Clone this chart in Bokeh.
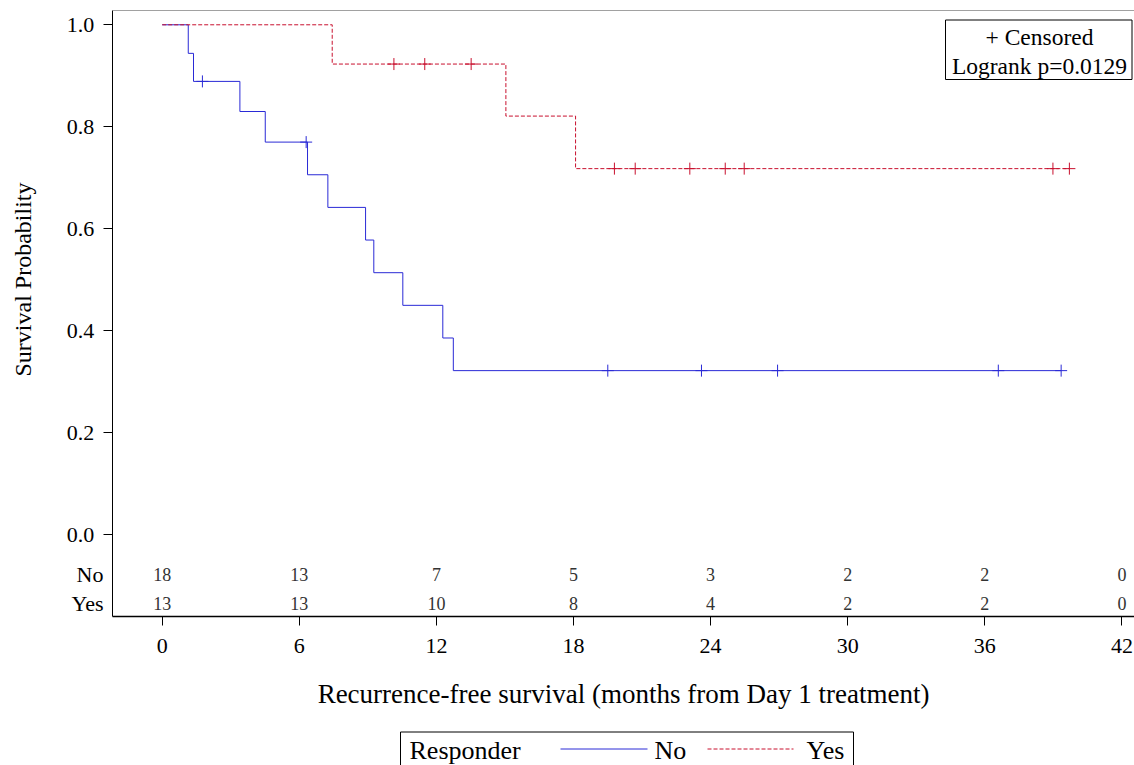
import numpy as np
from bokeh.plotting import figure
from bokeh.models import Range1d, FixedTicker, LinearAxis, Span
from bokeh.layouts import column
from bokeh.core.properties import value
from bokeh.embed import file_html
from bokeh.resources import INLINE

# ---------------- data ----------------
groups = ["No", "Yes"]
no_event_t = [1.14, 1.37, 3.40, 4.51, 6.36, 7.25, 8.90, 9.26, 10.53, 12.28, 12.74]
no_surv = [0.944, 0.889, 0.830, 0.770, 0.706, 0.642, 0.578, 0.514, 0.450, 0.386, 0.322]
no_censor_t = [1.76, 6.30, 19.50, 23.60, 26.93, 36.59, 39.34]

yes_event_t = [7.44, 15.04, 18.09]
yes_surv = [0.923, 0.821, 0.718]
yes_censor_t = [10.14, 11.49, 13.52, 19.79, 20.70, 23.09, 24.64, 25.47, 38.98, 39.70]

risk_times = [0, 6, 12, 18, 24, 30, 36, 42]
no_at_risk = [18, 13, 7, 5, 3, 2, 2, 0]
yes_at_risk = [13, 13, 10, 8, 4, 2, 2, 0]

y_ticks = [0.0, 0.2, 0.4, 0.6, 0.8, 1.0]
y_tick_labels = ["0.0", "0.2", "0.4", "0.6", "0.8", "1.0"]
logrank_text = "Logrank p=0.0129"

# ---------------- style ----------------
FONT = "Liberation Serif"
BLUE = "#2A2AD6"
RED = "#C8102E"
W = 1134
H1 = 722
H2 = 765 - H1
LEFT = 112
TOP = 10
FRAME_BOTTOM = 616

X0, X1 = -2.175, 42.55
Y0, Y1 = -0.160, 1.028
ROW_NO, ROW_YES = -0.0778, -0.1347


def step_xy(event_t, surv, end_t):
    xs = [0.0] + list(event_t) + [end_t]
    ys = [1.0] + list(surv) + [surv[-1]]
    return xs, ys


def surv_at(t_list, event_t, surv):
    lv = [1.0] + list(surv)
    idx = np.searchsorted(np.array(event_t), np.array(t_list), side="right")
    return [lv[i] for i in idx]


p = figure(width=W, height=H1, output_backend="svg", toolbar_location=None,
           x_range=Range1d(X0, X1), y_range=Range1d(Y0, Y1),
           min_border_left=LEFT, min_border_right=0, min_border_top=TOP,
           min_border_bottom=H1 - FRAME_BOTTOM)
p.outline_line_color = None
p.grid.visible = False
p.background_fill_color = "white"
p.border_fill_color = "white"

# x axis
xa = p.xaxis[0]
xa.ticker = FixedTicker(ticks=risk_times)
xa.major_tick_out = 9
xa.major_tick_in = 0
xa.minor_tick_out = 0
xa.minor_tick_in = 0
xa.axis_line_color = "black"
xa.axis_line_width = 1.5
xa.major_tick_line_color = "black"
xa.major_label_text_font = FONT
xa.major_label_text_font_size = "22px"
xa.major_label_text_color = "black"
xa.major_label_standoff = 13
xa.axis_label = "Recurrence-free survival (months from Day 1 treatment)"
xa.axis_label_text_font = FONT
xa.axis_label_text_font_size = "27px"
xa.axis_label_text_font_style = "normal"
xa.axis_label_text_color = "black"
xa.axis_label_standoff = 23

# y axis (inner): line + tick marks only (empty labels)
ya = p.yaxis[0]
ya.ticker = FixedTicker(ticks=y_ticks)
ya.major_label_overrides = {t: "" for t in y_ticks}
ya.major_tick_out = 9
ya.major_tick_in = 0
ya.minor_tick_out = 0
ya.minor_tick_in = 0
ya.axis_line_color = "black"
ya.axis_line_width = 1
ya.major_tick_line_color = "black"
ya.major_label_text_font = FONT
ya.major_label_text_font_size = "22px"
ya.major_label_standoff = 0

# y axis (outer): tick labels, at-risk row labels and title
pad = "\u2005\u2006"
overrides = {t: lab + pad for t, lab in zip(y_ticks, y_tick_labels)}
overrides[ROW_NO] = groups[0]
overrides[ROW_YES] = groups[1]
yb = LinearAxis(ticker=FixedTicker(ticks=y_ticks + [ROW_NO, ROW_YES]),
                major_label_overrides=overrides)
yb.axis_line_color = None
yb.major_tick_out = 0
yb.major_tick_in = 0
yb.minor_tick_out = 0
yb.minor_tick_in = 0
yb.major_label_text_font = FONT
yb.major_label_text_font_size = "22px"
yb.major_label_text_color = "black"
yb.major_label_standoff = 0
# leading spaces shift the (rotated) title up so it is centred on the 0-1 span
yb.axis_label = "\u2003\u2003\u2002\u2004Survival Probability"
yb.axis_label_text_font = FONT
yb.axis_label_text_font_size = "24px"
yb.axis_label_text_font_style = "normal"
yb.axis_label_text_color = "black"
yb.axis_label_standoff = 28
p.add_layout(yb, "left")

# top frame line
p.add_layout(Span(location=Y1, dimension="width", line_color="#444444", line_width=1))

# curves
nx, ny = step_xy(no_event_t, no_surv, no_censor_t[-1])
yx, yy = step_xy(yes_event_t, yes_surv, yes_censor_t[-1])
p.step(nx, ny, mode="after", line_color=BLUE, line_width=1)
p.step(yx, yy, mode="after", line_color=RED, line_width=1, line_dash="4 2")

p.scatter(no_censor_t, surv_at(no_censor_t, no_event_t, no_surv), marker="cross",
          size=12, line_color=BLUE, line_width=1)
p.scatter(yes_censor_t, surv_at(yes_censor_t, yes_event_t, yes_surv), marker="cross",
          size=12, line_color=RED, line_width=1)

# at-risk table
p.text(x=risk_times, y=[ROW_NO] * len(risk_times), text=[str(v) for v in no_at_risk],
       text_align="center", text_baseline="middle", text_font=value(FONT),
       text_font_size="18px", text_color="#333333")
p.text(x=risk_times, y=[ROW_YES] * len(risk_times), text=[str(v) for v in yes_at_risk],
       text_align="center", text_baseline="middle", text_font=value(FONT),
       text_font_size="18px", text_color="#333333")

# inset box (censored / logrank) -- positioned in page pixels
px_per_x = (W - LEFT) / (X1 - X0)
px_per_y = (FRAME_BOTTOM - TOP) / (Y1 - Y0)


def dx(px):
    return X0 + (px - LEFT) / px_per_x


def dy(py):
    return Y1 - (py - TOP) / px_per_y


p.quad(left=[dx(945)], right=[dx(1131.5)], top=[dy(19.5)], bottom=[dy(79)],
       fill_color="white", line_color="black", line_width=1)
p.text(x=[dx(1039)] * 2, y=[dy(36.7), dy(65)], text=["+ Censored", logrank_text],
       text_align="center", text_baseline="middle", text_font=value(FONT),
       text_font_size="23.5px", text_color="black")

# ---------------- bottom legend (page-pixel coordinates) ----------------
q = figure(width=W, height=H2, output_backend="svg", toolbar_location=None,
           x_range=Range1d(LEFT, W), y_range=Range1d(765, H1),
           x_axis_type=None, y_axis_type=None,
           min_border_left=LEFT, min_border_right=0, min_border_top=0, min_border_bottom=0)
q.outline_line_color = None
q.grid.visible = False
mid = 749.5
q.quad(left=[400], right=[853], top=[731.5], bottom=[780],
       fill_color=None, line_color="black", line_width=1)
q.text(x=[409], y=[mid], text=["Responder"], text_align="left", text_baseline="middle",
       text_font=value(FONT), text_font_size="26px", text_color="black")
q.line([560, 647], [mid - 1, mid - 1], line_color=BLUE, line_width=1)
q.text(x=[654], y=[mid], text=[groups[0]], text_align="left", text_baseline="middle",
       text_font=value(FONT), text_font_size="26px", text_color="black")
q.line([707, 793], [mid - 1, mid - 1], line_color=RED, line_width=1, line_dash="4 2")
q.text(x=[806], y=[mid], text=[groups[1]], text_align="left", text_baseline="middle",
       text_font=value(FONT), text_font_size="26px", text_color="black")

layout = column(p, q, spacing=0)
open("out.html", "w").write(file_html(layout, INLINE))
